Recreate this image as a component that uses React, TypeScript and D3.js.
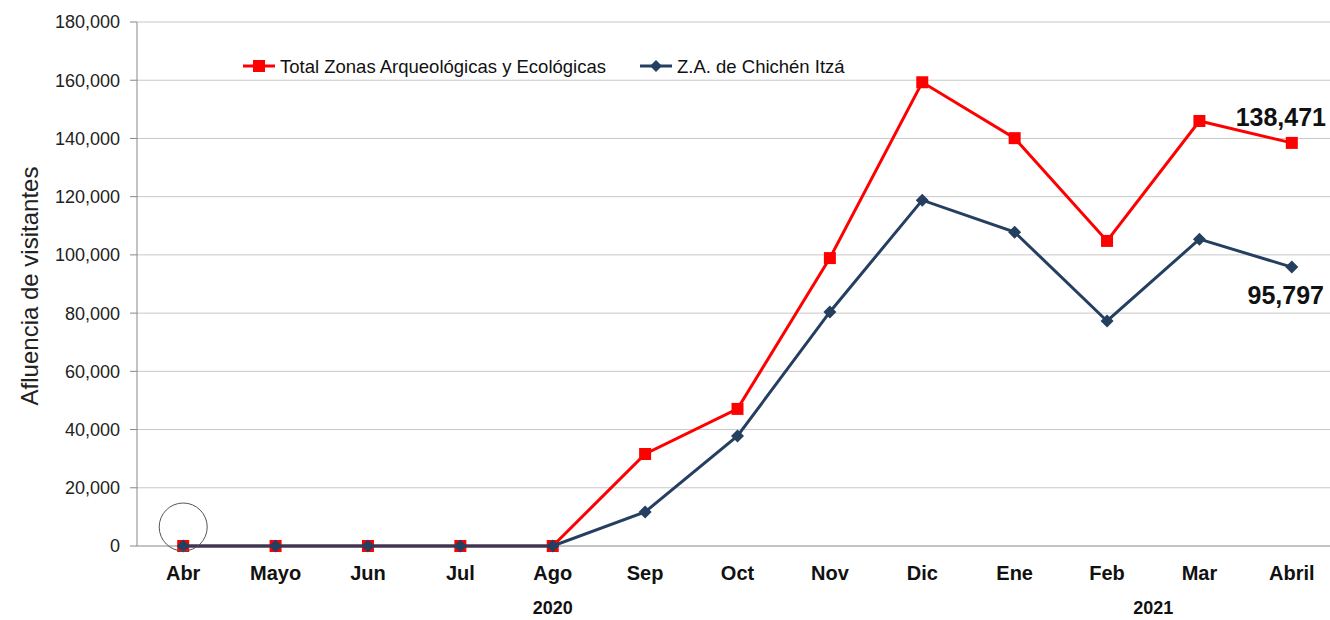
import React from 'react';
import * as d3 from 'd3';

const MONTHS = ['Abr', 'Mayo', 'Jun', 'Jul', 'Ago', 'Sep', 'Oct', 'Nov', 'Dic', 'Ene', 'Feb', 'Mar', 'Abril'];
const TOTAL = [0, 0, 0, 0, 0, 31600, 47100, 98900, 159300, 140100, 104800, 146000, 138471];
const CHICHEN = [0, 0, 0, 0, 0, 11700, 37800, 80400, 118800, 107800, 77300, 105400, 95797];
const Y_TICKS = [0, 20000, 40000, 60000, 80000, 100000, 120000, 140000, 160000, 180000];
const YEARS = [{ label: '2020', at: 'Ago', shift: 0 }, { label: '2021', at: 'Feb', shift: 0.5 }];

const RED = '#ff0000';
const BLUE = '#243f60';
const FONT = '"Liberation Sans", Arial, sans-serif';

export default function App() {
  const W = 1330, H = 620;
  const left = 137, right = 1338, top = 22, bottom = 546;

  const x = d3.scaleBand<string>().domain(MONTHS).range([left, right]);
  const cx = (m: string) => (x(m) as number) + x.bandwidth() / 2;
  const y = d3.scaleLinear().domain([0, 180000]).range([bottom, top]);
  const fmt = d3.format(',');

  const line = d3.line<number>().x((_, i) => cx(MONTHS[i])).y(d => y(d));

  const diamond = (px: number, py: number, r: number) =>
    `M${px},${py - r}L${px + r},${py}L${px},${py + r}L${px - r},${py}Z`;

  const last = MONTHS.length - 1;

  return (
    <svg width={W} height={H} style={{ position: 'absolute', left: 0, top: 0, background: '#fff' }} fontFamily={FONT}>
      {/* grid */}
      {Y_TICKS.map(t => (
        <g key={t}>
          {t > 0 && <line x1={left} x2={right} y1={y(t)} y2={y(t)} stroke="#c8c8c8" strokeWidth={1} />}
          <line x1={left - 7} x2={left} y1={y(t)} y2={y(t)} stroke="#888" strokeWidth={1} />
          <text x={left - 17} y={y(t)} dy="0.36em" textAnchor="end" fontSize={18} fill="#222">{fmt(t)}</text>
        </g>
      ))}
      <line x1={left} x2={left} y1={top} y2={bottom} stroke="#888" strokeWidth={1} />
      <line x1={left} x2={right} y1={bottom} y2={bottom} stroke="#888" strokeWidth={1} />

      <text transform={`translate(38,${(top + bottom) / 2 + 2}) rotate(-90)`} textAnchor="middle" fontSize={24} fill="#222">
        Afluencia de visitantes
      </text>

      {/* x labels */}
      {MONTHS.map(m => (
        <text key={m} x={cx(m)} y={580} textAnchor="middle" fontSize={20} fontWeight="bold" fill="#111">{m}</text>
      ))}
      {YEARS.map(yr => (
        <text key={yr.label} x={cx(yr.at) + yr.shift * x.step()} y={614} textAnchor="middle" fontSize={18} fontWeight="bold" fill="#111">{yr.label}</text>
      ))}

      {/* series */}
      <path d={line(TOTAL) as string} fill="none" stroke={RED} strokeWidth={3} />
      {TOTAL.map((v, i) => (
        <rect key={i} x={cx(MONTHS[i]) - 6} y={y(v) - 6} width={12} height={12} fill={RED} />
      ))}
      <path d={line(CHICHEN) as string} fill="none" stroke={BLUE} strokeWidth={3} />
      {CHICHEN.map((v, i) => (
        <path key={i} d={diamond(cx(MONTHS[i]), y(v), 6.5)} fill={BLUE} />
      ))}

      {/* end labels */}
      <text x={1326} y={y(TOTAL[last]) - 17} textAnchor="end" fontSize={25} fontWeight="bold" fill="#111">{fmt(TOTAL[last])}</text>
      <text x={1324} y={y(CHICHEN[last]) + 37} textAnchor="end" fontSize={25} fontWeight="bold" fill="#111">{fmt(CHICHEN[last])}</text>

      {/* circle marker */}
      <circle cx={cx(MONTHS[0])} cy={527} r={24} fill="none" stroke="#555" strokeWidth={1} />

      {/* legend */}
      <g>
        <line x1={243} x2={275} y1={66} y2={66} stroke={RED} strokeWidth={3} />
        <rect x={253} y={60} width={12} height={12} fill={RED} />
        <text x={280} y={66} dy="0.36em" fontSize={18.5} fill="#111">Total Zonas Arqueológicas y Ecológicas</text>
        <line x1={640} x2={672} y1={66} y2={66} stroke={BLUE} strokeWidth={3} />
        <path d={diamond(656, 66, 6)} fill={BLUE} />
        <text x={677} y={66} dy="0.36em" fontSize={18.5} fill="#111">Z.A. de Chichén Itzá</text>
      </g>
    </svg>
  );
}
